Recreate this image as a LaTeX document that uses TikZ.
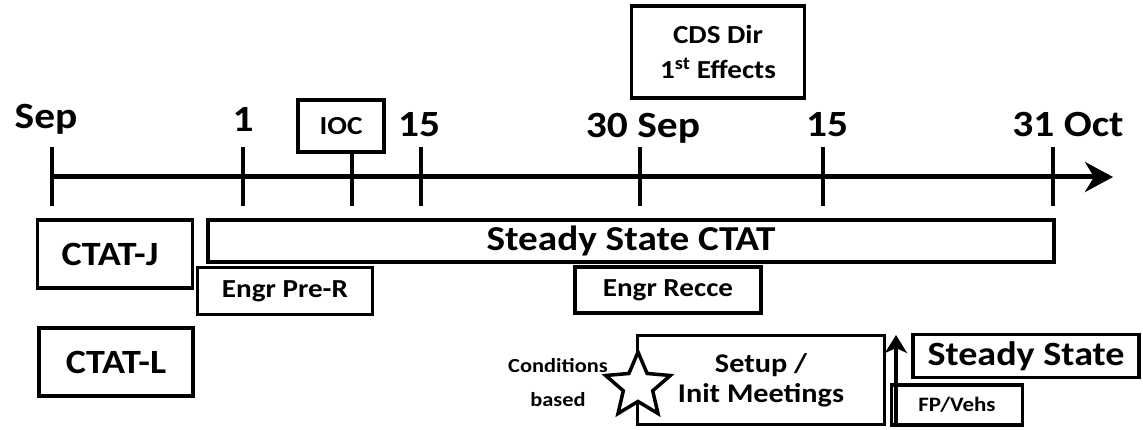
\documentclass[tikz,border=0pt]{standalone}
\usepackage{fontspec}
\setmainfont{Carlito}[FakeStretch=1.12]
\usetikzlibrary{arrows.meta,shapes.geometric,positioning}
\tikzset{
    box/.style = {draw, rectangle, line width=3.5pt, inner sep=0pt, align=center},
    datelbl/.style = {anchor=base, inner sep=0pt, font=\fontsize{37}{40}\selectfont\bfseries},
    tickline/.style = {line width=4.5pt},
    bigtxt/.style = {font=\fontsize{34}{40}\selectfont\bfseries},
    midtxt/.style = {font=\fontsize{26}{35}\selectfont\bfseries},
    setuptxt/.style = {font=\fontsize{27}{30}\selectfont\bfseries},
    smalltxt/.style = {font=\fontsize{20.5}{24}\selectfont\bfseries},
    timeline/.style = {line width=5pt, -{Stealth[length=28pt,width=30pt,inset=9pt]}}
}

\begin{document}
\begin{tikzpicture}[x=1pt, y=-1pt]
    \useasboundingbox (0,0) rectangle (1143,430);
    % time axis
    \coordinate (axstart) at (50,177);
    \coordinate (axend) at (1113,177);
    \draw [timeline] (axstart) -- (axend);
    \foreach \x in {52,243,421,640,823,1053}
        \draw [tickline] (\x,147) -- (\x,206);
    \node [datelbl] (lsep) at (46,129) {Sep};
    \node [datelbl] (lone) at (243,132) {1};
    \node [datelbl] (lfifteen) at (419,137) {15};
    \node [datelbl] (lthirty) at (643,138) {30 Sep};
    \node [datelbl] (loctfifteen) at (827,137) {15};
    \node [datelbl] (loct) at (1068,137) {31 Oct};
    % milestones above the axis
    \node [box, font=\fontsize{26}{30}\selectfont\bfseries, minimum width=86pt, minimum height=52pt] (ioc) at (341,126) {IOC};
    \coordinate (iocax) at (352,206);
    \draw [tickline] (iocax) -- (iocax |- ioc.south);
    \node [box, midtxt, minimum width=173pt, minimum height=92pt] (cds) at (718,52) {CDS Dir\\1\textsuperscript{st} Effects};
    % activities
    \node [box, bigtxt, minimum width=155pt, minimum height=68pt] (ctatj) at (115,254) {CTAT-J\hspace{10pt}};
    \node [box, font=\fontsize{35}{40}\selectfont\bfseries, minimum width=846pt, minimum height=42pt] (steady) at (631,241) {Steady State CTAT};
    \node [box, midtxt, minimum width=175pt, minimum height=47pt] (prer) at (285,291) {Engr Pre-R};
    \node [box, midtxt, minimum width=186pt, minimum height=46pt] (recce) at (668,290) {Engr Recce};
    \node [box, bigtxt, minimum width=154pt, minimum height=68pt] (ctatl) at (116,362) {CTAT-L};
    \node [box, setuptxt, minimum width=247pt, minimum height=89pt] (setup) at (761,380) {Setup /\\Init Meetings};
    \node [star, star points=5, star point ratio=2.2, minimum size=68pt, inner sep=0pt,
           draw, line width=3.5pt, fill=white] (trigger) at (638,386) {};
    \node [font=\fontsize{20}{34}\selectfont\bfseries, align=center, inner sep=0pt] (cond) at (558,383) {Conditions\\based};
    \node [box, smalltxt, minimum width=131pt, minimum height=40pt] (fpveh) at (957,405) {FP/Vehs};
    \node [box, bigtxt, minimum width=226pt, minimum height=43pt] (ssend) at (1026,356) {Steady State};
    \coordinate (fpfoot) at (896,427);
    \coordinate (fphead) at (896,335);
    \draw [line width=3.5pt, -{Stealth[length=18pt,width=22pt,inset=5pt]}] (fpfoot) -- (fphead);
\end{tikzpicture}
\end{document}
